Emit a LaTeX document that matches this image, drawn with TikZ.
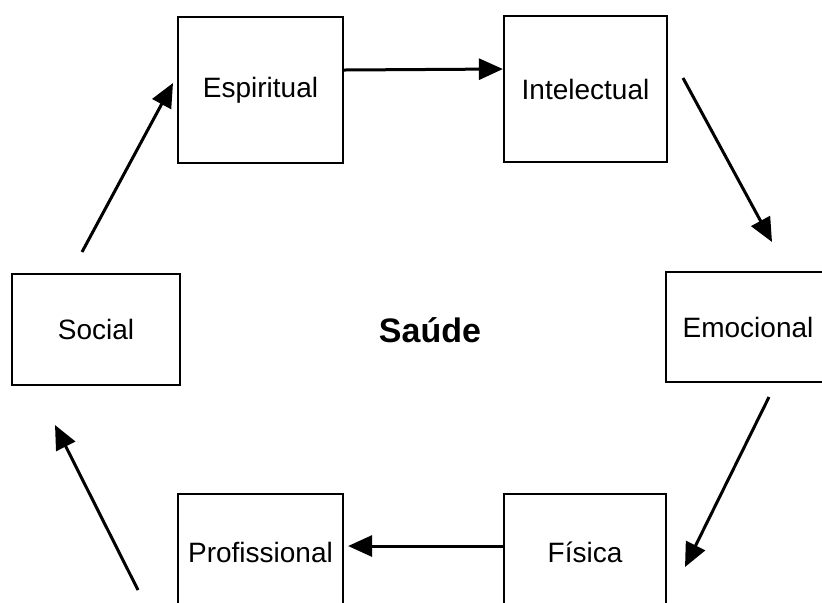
\documentclass[tikz,border=0pt]{standalone}
\usepackage{fontspec}
\setmainfont{Liberation Sans}
\usetikzlibrary{arrows.meta}
\tikzset{
  box/.style = {draw, line width=1.1pt, inner sep=0pt, font=\fontsize{14}{16}\selectfont},
  link/.style = {line width=1.5pt, -{Triangle[length=12pt,width=10.5pt]}}
}
\begin{document}
\begin{tikzpicture}[x=0.5pt, y=-0.5pt]
     \clip (0,0) rectangle (822,602);
     \useasboundingbox (0,0) rectangle (822,602);
     % the boxes
     \node (espiritual) [box, minimum width=82.5pt, minimum height=73pt] at (260.5,90) {Espiritual};
     \node (intelectual) [box, minimum width=81.5pt, minimum height=73pt] at (585.5,89) {Intelectual};
     \node (emocional) [box, minimum width=82pt, minimum height=55pt] at (748,327) {Emocional};
     \node (fisica) [box, minimum width=81pt, minimum height=58pt] at (585,552) {Física};
     \node (profissional) [box, minimum width=82.5pt, minimum height=58pt] at (260.5,552) {Profissional};
     \node (social) [box, minimum width=84pt, minimum height=55.5pt] at (96,329.5) {Social};
     \node (saude) [font=\fontsize{17}{20}\selectfont\bfseries] at (430,330) {Saúde};
     % free ends of the slanted arrows
     \coordinate (social out) at (82,252);
     \coordinate (espiritual in) at (173,83);
     \coordinate (intelectual out) at (683,78);
     \coordinate (emocional in) at (772,242);
     \coordinate (emocional out) at (769,397);
     \coordinate (fisica in) at (685,567);
     \coordinate (profissional out) at (138,590);
     \coordinate (social in) at (55,425);
     % the arrows
     \draw[link] ([yshift=10pt]espiritual.east) -- ([yshift=10pt]intelectual.west);
     \draw[link] (intelectual out) -- (emocional in);
     \draw[link] (emocional out) -- (fisica in);
     \draw[link] ([yshift=3pt]fisica.west) -- ([yshift=3pt,xshift=2pt]profissional.east);
     \draw[link] (profissional out) -- (social in);
     \draw[link] (social out) -- (espiritual in);
\end{tikzpicture}
\end{document}
